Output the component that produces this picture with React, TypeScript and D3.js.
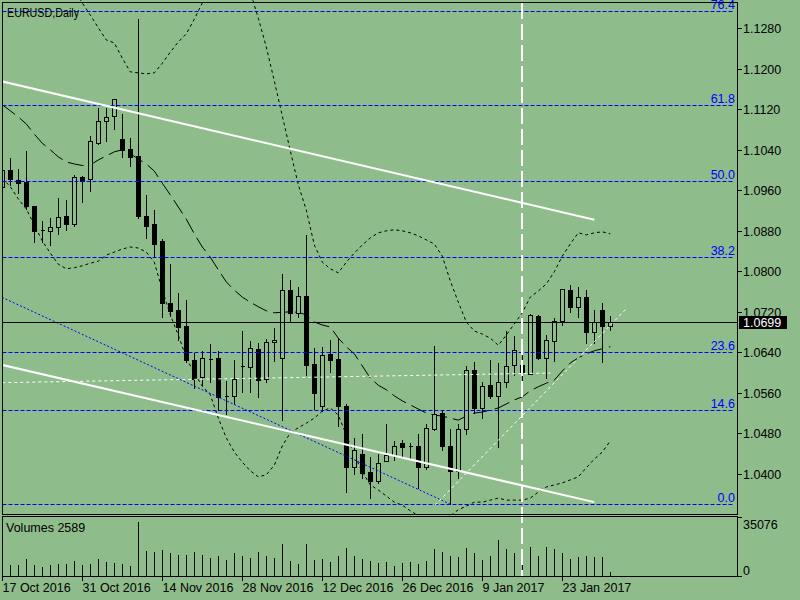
import React, { useEffect, useRef } from 'react';
import * as d3 from 'd3';

// daily bars, 17 Oct 2016 .. 31 Jan 2017
const opens = [
  1.0967, 1.1000, 1.0980, 1.0977, 1.0929, 1.0882, 1.0880, 1.0888, 1.0909, 1.0893,
  1.0986, 1.0982, 1.1054, 1.1096, 1.1107, 1.1061, 1.1041, 1.1028, 1.0909, 1.0893,
  1.0860, 1.0737, 1.0724, 1.0692, 1.0625, 1.0592, 1.0627, 1.0628, 1.0554, 1.0554,
  1.0612, 1.0610, 1.0646, 1.0587, 1.0660, 1.0628, 1.0763, 1.0717, 1.0751, 1.0617,
  1.0533, 1.0637, 1.0626, 1.0534, 1.0413, 1.0439, 1.0403, 1.0386, 1.0425, 1.0437,
  1.0460, 1.0455, 1.0454, 1.0414, 1.0488, 1.0520, 1.0454, 1.0406, 1.0488, 1.0605,
  1.0529, 1.0575, 1.0554, 1.0582, 1.0614, 1.0615, 1.0598, 1.0712, 1.0628, 1.0663,
  1.0702, 1.0764, 1.0730, 1.0749, 1.0681, 1.0724, 1.0692,
];
const highs = [
  1.1004, 1.1025, 1.1005, 1.1040, 1.0931, 1.0901, 1.0907, 1.0947, 1.0943, 1.0992,
  1.0990, 1.1070, 1.1125, 1.1125, 1.1142, 1.1112, 1.1066, 1.1300, 1.0953, 1.0924,
  1.0866, 1.0816, 1.0759, 1.0745, 1.0641, 1.0645, 1.0658, 1.0645, 1.0585, 1.0626,
  1.0685, 1.0664, 1.0661, 1.0669, 1.0689, 1.0796, 1.0785, 1.0770, 1.0874, 1.0651,
  1.0652, 1.0666, 1.0670, 1.0539, 1.0473, 1.0480, 1.0435, 1.0442, 1.0500, 1.0467,
  1.0468, 1.0463, 1.0480, 1.0500, 1.0654, 1.0527, 1.0490, 1.0500, 1.0615, 1.0623,
  1.0583, 1.0626, 1.0621, 1.0685, 1.0674, 1.0638, 1.0718, 1.0716, 1.0676, 1.0709,
  1.0768, 1.0775, 1.0771, 1.0766, 1.0725, 1.0740, 1.0714,
];
const lows = [
  1.0965, 1.0971, 1.0954, 1.0924, 1.0857, 1.0857, 1.0851, 1.0874, 1.0882, 1.0890,
  1.0936, 1.0959, 1.1051, 1.1058, 1.1081, 1.1026, 1.1008, 1.0906, 1.0865, 1.0829,
  1.0710, 1.0712, 1.0664, 1.0620, 1.0569, 1.0575, 1.0582, 1.0526, 1.0518, 1.0538,
  1.0562, 1.0562, 1.0551, 1.0582, 1.0623, 1.0506, 1.0700, 1.0709, 1.0595, 1.0528,
  1.0524, 1.0602, 1.0494, 1.0365, 1.0400, 1.0392, 1.0352, 1.0382, 1.0425, 1.0427,
  1.0435, 1.0431, 1.0371, 1.0409, 1.0486, 1.0448, 1.0340, 1.0392, 1.0479, 1.0520,
  1.0510, 1.0549, 1.0452, 1.0571, 1.0596, 1.0579, 1.0597, 1.0627, 1.0589, 1.0623,
  1.0694, 1.0720, 1.0710, 1.0658, 1.0658, 1.0620, 1.0685,
];
const closes = [
  1.1000, 1.0982, 1.0974, 1.0928, 1.0880, 1.0881, 1.0887, 1.0908, 1.0893, 1.0986,
  1.0979, 1.1057, 1.1096, 1.1104, 1.1140, 1.1040, 1.1026, 1.0909, 1.0890, 1.0854,
  1.0737, 1.0722, 1.0689, 1.0625, 1.0587, 1.0628, 1.0626, 1.0552, 1.0553, 1.0587,
  1.0613, 1.0648, 1.0585, 1.0661, 1.0664, 1.0764, 1.0717, 1.0752, 1.0614, 1.0559,
  1.0635, 1.0625, 1.0534, 1.0413, 1.0448, 1.0401, 1.0386, 1.0422, 1.0437, 1.0455,
  1.0452, 1.0455, 1.0413, 1.0490, 1.0518, 1.0454, 1.0405, 1.0488, 1.0606, 1.0529,
  1.0573, 1.0554, 1.0582, 1.0613, 1.0645, 1.0602, 1.0714, 1.0629, 1.0664, 1.0702,
  1.0766, 1.0730, 1.0749, 1.0681, 1.0699, 1.0692, 1.0699,
];
const volumes = [
  6500, 6540, 6540, 10100, 6540, 5350, 6540, 7130, 7130, 8920,
  6540, 7130, 10100, 8320, 7730, 7130, 5950, 31900, 14860, 14270,
  15460, 13670, 12490, 12490, 14270, 12490, 10700, 11890, 9510, 13670,
  11890, 10700, 14270, 11890, 10700, 19020, 8920, 7130, 19020, 9510,
  10100, 8320, 11890, 16650, 11890, 10100, 8920, 7730, 8320, 5950,
  7730, 8320, 7130, 8920, 16050, 14270, 11890, 11300, 16650, 13670,
  9510, 11890, 21400, 16050, 13670, 8920, 17240, 11890, 17240, 16050,
  13670, 10100, 11300, 11890, 11300, 11300, 2589,
];
// Bollinger bands
const bbUpper = [
  1.1395, 1.1405, 1.1411, 1.1415, 1.1415, 1.1411, 1.1405, 1.1395, 1.1379, 1.1356,
  1.1330, 1.1306, 1.1281, 1.1257, 1.1251, 1.1221, 1.1194, 1.1192, 1.1190, 1.1192,
  1.1211, 1.1233, 1.1253, 1.1269, 1.1298, 1.1330, 1.1365, 1.1395, 1.1411, 1.1411,
  1.1395, 1.1352, 1.1300, 1.1243, 1.1176, 1.1107, 1.1038, 1.0971, 1.0921, 1.0852,
  1.0818, 1.0805, 1.0797, 1.0818, 1.0836, 1.0852, 1.0866, 1.0876, 1.0880, 1.0882,
  1.0880, 1.0876, 1.0870, 1.0862, 1.0854, 1.0830, 1.0781, 1.0739, 1.0700, 1.0682,
  1.0676, 1.0668, 1.0654, 1.0674, 1.0696, 1.0718, 1.0749, 1.0761, 1.0775, 1.0799,
  1.0830, 1.0854, 1.0876, 1.0872, 1.0876, 1.0878, 1.0874,
];
const bbMiddle = [
  1.1129, 1.1117, 1.1105, 1.1091, 1.1071, 1.1053, 1.1040, 1.1026, 1.1016, 1.1012,
  1.1009, 1.1010, 1.1020, 1.1028, 1.1036, 1.1040, 1.1032, 1.1022, 1.1012, 1.0998,
  1.0974, 1.0951, 1.0927, 1.0903, 1.0874, 1.0848, 1.0828, 1.0803, 1.0779, 1.0763,
  1.0749, 1.0739, 1.0730, 1.0722, 1.0718, 1.0719, 1.0720, 1.0719, 1.0714, 1.0700,
  1.0694, 1.0690, 1.0668, 1.0651, 1.0637, 1.0613, 1.0589, 1.0575, 1.0566, 1.0554,
  1.0544, 1.0536, 1.0528, 1.0520, 1.0516, 1.0514, 1.0510, 1.0506, 1.0514, 1.0520,
  1.0522, 1.0526, 1.0530, 1.0538, 1.0546, 1.0552, 1.0564, 1.0572, 1.0579, 1.0585,
  1.0603, 1.0619, 1.0629, 1.0637, 1.0643, 1.0647, 1.0651,
];
const bbLower = [
  1.0984, 1.0967, 1.0943, 1.0923, 1.0892, 1.0860, 1.0836, 1.0814, 1.0805, 1.0807,
  1.0811, 1.0816, 1.0820, 1.0832, 1.0838, 1.0844, 1.0848, 1.0846, 1.0838, 1.0818,
  1.0763, 1.0714, 1.0674, 1.0629, 1.0599, 1.0573, 1.0556, 1.0510, 1.0471, 1.0443,
  1.0423, 1.0406, 1.0394, 1.0398, 1.0417, 1.0455, 1.0481, 1.0491, 1.0500, 1.0510,
  1.0524, 1.0530, 1.0516, 1.0477, 1.0437, 1.0404, 1.0378, 1.0368, 1.0356, 1.0344,
  1.0338, 1.0327, 1.0317, 1.0309, 1.0305, 1.0307, 1.0317, 1.0329, 1.0336, 1.0344,
  1.0344, 1.0348, 1.0352, 1.0348, 1.0348, 1.0348, 1.0352, 1.0364, 1.0374, 1.0378,
  1.0382, 1.0388, 1.0394, 1.0412, 1.0429, 1.0443, 1.0465,
];

const dateLabels = ['17 Oct 2016', '31 Oct 2016', '14 Nov 2016', '28 Nov 2016', '12 Dec 2016', '26 Dec 2016', '9 Jan 2017', '23 Jan 2017'];
const dateBars = [0, 10, 20, 30, 40, 50, 60, 70];
const priceTicks = [1.04, 1.048, 1.056, 1.064, 1.072, 1.08, 1.088, 1.096, 1.104, 1.112, 1.12, 1.128];

const fibLevels = [0, 14.6, 23.6, 38.2, 50, 61.8, 76.4];
const fibHigh = 1.1616;
const fibLow = 1.034;
const lastPrice = 1.0699;
const maxVolume = 35076;

// drawn objects: [bar1, price1, bar2, price2]
const channelTop = [0, 1.1175, 74, 1.0902];
const channelBottom = [0, 1.0615, 74, 1.0344];
const flatLine = [0, 1.058, 68.5, 1.0599];
const riseLine = [54.1, 1.0338, 78, 1.0726];
const fibDiagonal = [-119, fibHigh, 56, fibLow];
const markerBar = 65;

const BG = '#8fbc8b';
const FONT = '"Liberation Sans", Arial, sans-serif';

const App: React.FC = () => {
  const svgRef = useRef<SVGSVGElement>(null);

  useEffect(() => {
    document.body.style.margin = '0';
    if (!svgRef.current) return;
    const svg = d3.select(svgRef.current);
    svg.selectAll('*').remove();

    const left = 2.5, right = 737.5, top = 2.5, mainBottom = 514.5;
    const volTop = 516.5, volBottom = 576.5;

    const x = d3.scaleLinear().domain([0, 76]).range([2.3, 610.3]);
    const y = d3.scaleLinear().domain([1.04, 1.128]).range([473.8, 28.3]);
    const vy = d3.scaleLinear().domain([0, maxVolume]).range([576, 517]);
    const cx = (i: number) => Math.round(x(i)) + 0.5;
    const py = (p: number) => Math.round(y(p)) + 0.5;

    svg.append('rect').attr('width', 800).attr('height', 600).attr('fill', BG);

    const defs = svg.append('defs');
    defs.append('clipPath').attr('id', 'clipMain')
      .append('rect').attr('x', 3).attr('y', 0).attr('width', 734).attr('height', 514);
    defs.append('clipPath').attr('id', 'clipVol')
      .append('rect').attr('x', 3).attr('y', 517).attr('width', 734).attr('height', 59);

    const main = svg.append('g').attr('clip-path', 'url(#clipMain)');

    // bollinger bands
    const idx = d3.range(opens.length);
    const band = (vals: number[]) =>
      d3.line<number>().x((i) => x(i)).y((i) => y(vals[i]))(idx);
    [
      { vals: bbUpper, dash: '3,3' },
      { vals: bbLower, dash: '3,3' },
      { vals: bbMiddle, dash: '16,6' },
    ].forEach((b) => {
      main.append('path').attr('d', band(b.vals)).attr('fill', 'none')
        .attr('stroke', '#000').attr('stroke-width', 1).attr('stroke-dasharray', b.dash);
    });

    // candles
    const candles = main.selectAll('g.candle').data(idx).join('g')
      .attr('class', 'candle').attr('shape-rendering', 'crispEdges');
    candles.append('line')
      .attr('x1', (i) => cx(i)).attr('x2', (i) => cx(i))
      .attr('y1', (i) => py(highs[i])).attr('y2', (i) => py(lows[i]) + 0.5)
      .attr('stroke', '#000');
    candles.append('path')
      .attr('d', (i) => {
        const t = py(Math.max(opens[i], closes[i]));
        const b = py(Math.min(opens[i], closes[i]));
        return `M${cx(i) - 2},${t}H${cx(i) + 2}V${b}H${cx(i) - 2}Z`;
      })
      .attr('fill', (i) => (closes[i] < opens[i] ? '#000' : BG))
      .attr('stroke', '#000');

    // fibo levels
    const fibPrice = (l: number) => fibLow + (l / 100) * (fibHigh - fibLow);
    fibLevels.forEach((l) => {
      const yy = py(fibPrice(l));
      main.append('line').attr('x1', left).attr('x2', 734).attr('y1', yy).attr('y2', yy)
        .attr('stroke', '#0000ff').attr('stroke-dasharray', '4,2');
      main.append('text').attr('x', 735).attr('y', yy - 3).attr('text-anchor', 'end')
        .attr('font-family', FONT).attr('font-size', 12.5).attr('fill', '#0000ff')
        .text(l.toFixed(1));
    });

    const trend = (t: number[], color: string, width: number, dash: string | null) => {
      const ln = main.append('line')
        .attr('x1', x(t[0])).attr('y1', y(t[1])).attr('x2', x(t[2])).attr('y2', y(t[3]))
        .attr('stroke', color).attr('stroke-width', width);
      if (dash) ln.attr('stroke-dasharray', dash);
    };
    trend(fibDiagonal, '#0000ff', 1, '2,2');
    trend(channelTop, '#ffffff', 2, null);
    trend(channelBottom, '#ffffff', 2, null);
    trend(flatLine, '#ffffff', 1, '3,3');
    trend(riseLine, '#ffffff', 1, '3,3');

    // last price line
    main.append('line').attr('x1', left).attr('x2', right)
      .attr('y1', py(lastPrice)).attr('y2', py(lastPrice))
      .attr('stroke', '#000').attr('shape-rendering', 'crispEdges');

    main.append('text').attr('x', 7).attr('y', 16.5).attr('font-family', FONT)
      .attr('font-size', 12.5).attr('textLength', 72).attr('lengthAdjust', 'spacingAndGlyphs')
      .attr('fill', '#000').text('EURUSD,Daily');

    // volumes
    const vol = svg.append('g').attr('clip-path', 'url(#clipVol)');
    vol.selectAll('line.vol').data(idx).join('line').attr('class', 'vol')
      .attr('x1', (i) => cx(i)).attr('x2', (i) => cx(i))
      .attr('y1', (i) => Math.round(vy(volumes[i]))).attr('y2', 576)
      .attr('stroke', '#000').attr('shape-rendering', 'crispEdges');
    svg.append('text').attr('x', 6).attr('y', 531.5).attr('font-family', FONT)
      .attr('font-size', 12.5).attr('fill', '#000')
      .text(`Volumes ${volumes[volumes.length - 1]}`);

    // session marker
    const mx = Math.round(x(markerBar));
    svg.append('line').attr('x1', mx).attr('x2', mx)
      .attr('y1', top).attr('y2', volBottom)
      .attr('stroke', '#ffffff').attr('stroke-width', 2).attr('stroke-dasharray', '16,5')
      .attr('shape-rendering', 'crispEdges');

    // frames
    const frames = svg.append('g').attr('fill', 'none').attr('stroke', '#000')
      .attr('shape-rendering', 'crispEdges');
    frames.append('rect').attr('x', left).attr('y', top)
      .attr('width', right - left).attr('height', mainBottom - top);
    frames.append('rect').attr('x', left).attr('y', volTop)
      .attr('width', right - left).attr('height', volBottom - volTop);

    // price axis
    const axis = svg.append('g').attr('font-family', FONT).attr('font-size', 12.5);
    priceTicks.forEach((p) => {
      const yy = py(p);
      axis.append('line').attr('x1', right).attr('x2', right + 4).attr('y1', yy).attr('y2', yy)
        .attr('stroke', '#000').attr('shape-rendering', 'crispEdges');
      axis.append('text').attr('x', 743).attr('y', yy + 4.5).attr('fill', '#000')
        .text(d3.format('.4f')(p));
    });
    const ly = py(lastPrice);
    axis.append('rect').attr('x', 739).attr('y', ly - 6.5).attr('width', 48).attr('height', 13)
      .attr('fill', '#000');
    axis.append('text').attr('x', 743).attr('y', ly + 4.5).attr('fill', '#fff')
      .text(d3.format('.4f')(lastPrice));

    // volume axis
    [maxVolume, 0].forEach((v) => {
      const yy = Math.round(vy(v)) + 0.5;
      axis.append('line').attr('x1', right).attr('x2', right + 4).attr('y1', yy).attr('y2', yy)
        .attr('stroke', '#000').attr('shape-rendering', 'crispEdges');
      axis.append('text').attr('x', 743).attr('y', v === 0 ? yy - 1.5 : yy + 11)
        .attr('fill', '#000').text(String(v));
    });

    // date axis
    dateBars.forEach((b, j) => {
      axis.append('line').attr('x1', cx(b)).attr('x2', cx(b)).attr('y1', volBottom).attr('y2', volBottom + 4)
        .attr('stroke', '#000').attr('shape-rendering', 'crispEdges');
      axis.append('text').attr('x', cx(b)).attr('y', 591.5).attr('fill', '#000').text(dateLabels[j]);
    });
  }, []);

  return <svg ref={svgRef} width={800} height={600} style={{ display: 'block' }} />;
};

export default App;
